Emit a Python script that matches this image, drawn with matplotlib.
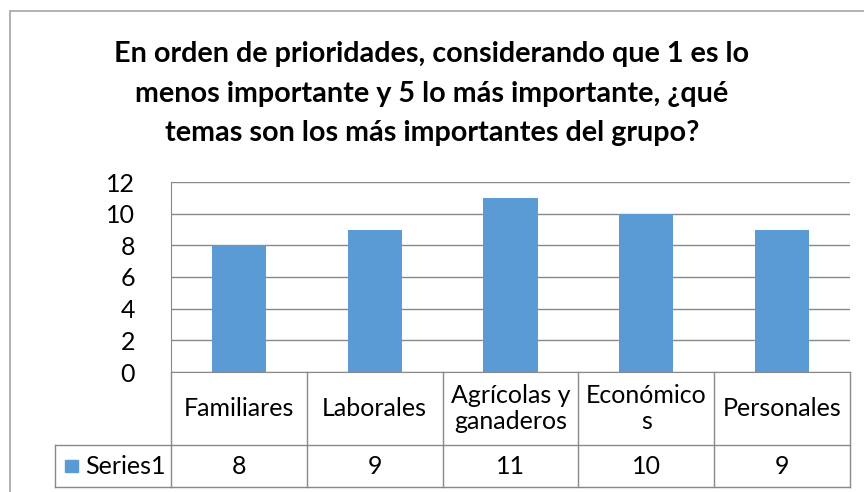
import matplotlib
matplotlib.use('Agg')
import matplotlib.pyplot as plt
from matplotlib.patches import Rectangle
from matplotlib.lines import Line2D

categories = ['Familiares', 'Laborales', 'Agrícolas y\nganaderos', 'Económico\ns', 'Personales']
values = [8, 9, 11, 10, 9]
series_name = 'Series1'
title_lines = ['En orden de prioridades, considerando que 1 es lo',
               'menos importante y 5 lo más importante, ¿qué',
               'temas son los más importantes del grupo?']

bar_color = '#5B9BD5'
grid_color = '#898989'
W, H = 864, 492

plt.rcParams['font.family'] = ['Lato', 'DejaVu Sans']

fig = plt.figure(figsize=(W / 100, H / 100), dpi=100)

# outer chart frame (cut off at right / bottom like the screenshot)
fig.add_artist(Rectangle((10 / W, -0.1), 1.2, (H - 11) / H + 0.1,
                         transform=fig.transFigure, fill=False,
                         edgecolor='#a6a6a6', lw=1.2))

# title, one line at a time so baselines match
for line, base in zip(title_lines, [62, 102, 141]):
    fig.text(0.5, (H - base) / H, line, ha='center', va='baseline',
             fontsize=20.7, fontweight='bold')

# plot area in pixels
left, right, top, bottom = 171, 850, 182, 372
ax = fig.add_axes([left / W, (H - bottom) / H, (right - left) / W, (bottom - top) / H])

x = list(range(len(categories)))
ax.bar(x, values, width=0.4, color=bar_color, zorder=3)
ax.set_xlim(-0.5, len(categories) - 0.5)
ax.set_ylim(0, 12)
ax.set_yticks(range(0, 13, 2))
ax.yaxis.grid(True, color=grid_color, lw=1)
ax.set_axisbelow(True)
ax.tick_params(axis='y', length=0, pad=26, labelsize=18)
ax.tick_params(axis='x', length=0, labelbottom=False)
for s in ['top', 'right']:
    ax.spines[s].set_visible(False)
ax.spines['left'].set_color(grid_color)
ax.spines['bottom'].set_color(grid_color)

# data table below the axis
ax_h = bottom - top
row1 = -(445 - bottom) / ax_h
row2 = -(487 - bottom) / ax_h
tbl_left = -(left - 55) / (right - left)
tr = ax.get_xaxis_transform()
line_kw = dict(color=grid_color, lw=1, clip_on=False)

for b in [i - 0.5 for i in range(len(categories) + 1)]:
    ax.add_line(Line2D([b, b], [0, row2], transform=tr, **line_kw))
ax.add_line(Line2D([-0.5, len(categories) - 0.5], [row1, row1], transform=tr, **line_kw))
ax.add_line(Line2D([-0.5, len(categories) - 0.5], [row2, row2], transform=tr, **line_kw))
ax.add_line(Line2D([tbl_left, 0], [row1, row1], transform=ax.transAxes, **line_kw))
ax.add_line(Line2D([tbl_left, 0], [row2, row2], transform=ax.transAxes, **line_kw))
ax.add_line(Line2D([tbl_left, tbl_left], [row1, row2], transform=ax.transAxes, **line_kw))

for i, (c, v) in enumerate(zip(categories, values)):
    ax.text(i, row1 / 2, c, transform=tr, ha='center', va='center',
            fontsize=18, linespacing=1.15)
    ax.text(i, (row1 + row2) / 2, str(v), transform=tr, ha='center', va='center',
            fontsize=18)

ax.add_patch(Rectangle((tbl_left + 10 / (right - left), (row1 + row2) / 2 - 6 / ax_h),
                       13 / (right - left), 12 / ax_h, transform=ax.transAxes,
                       color=bar_color, clip_on=False))
ax.text(tbl_left + 30 / (right - left), (row1 + row2) / 2, series_name,
        transform=ax.transAxes, ha='left', va='center', fontsize=18)

fig.savefig('out.png', dpi=100)
